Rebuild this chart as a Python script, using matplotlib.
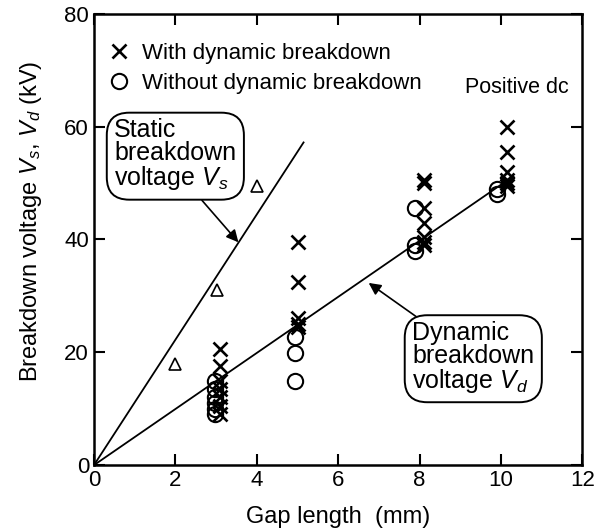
import numpy as np
import matplotlib
matplotlib.use("Agg")
import matplotlib.pyplot as plt

plt.rcParams['font.family'] = ['Liberation Sans', 'DejaVu Sans']
plt.rcParams['mathtext.fontset'] = 'custom'
plt.rcParams['mathtext.it'] = 'Liberation Sans:italic'
plt.rcParams['mathtext.rm'] = 'Liberation Sans'

#-----------------------------------
# data
#-----------------------------------
# with dynamic breakdown (crosses)
withX = [3.1]*7 + [5.02]*5 + [8.1]*7 + [10.15]*6
withY = [20.5, 17.5, 15, 13.5, 12, 10.5, 9,
         39.5, 32.5, 26, 25, 24.5,
         50.5, 50, 45.5, 43, 40.5, 39.5, 39,
         60, 55.5, 52, 50.5, 50, 49.5]

# without dynamic breakdown (circles)
withoutX = [2.97]*6 + [4.95]*3 + [7.9]*3 + [9.9]*2
withoutY = [15, 13.5, 12, 11, 10, 9,
            22.7, 19.8, 15,
            45.5, 39, 38,
            49, 48]

# static breakdown (triangles)
staticX = [2.0, 3.02, 4.0]
staticY = [18, 31, 49.5]

# fitted lines
staticLineX  = [0, 5.15]
staticLineY  = [0, 57.2]
dynLineX     = [0, 10.3]
dynLineY     = [0, 51.2]

#-----------------------------------
# drawing
#-----------------------------------
fig = plt.figure(figsize=(6.06, 5.31), dpi=100)
ax = fig.add_axes([0.155, 0.124, 0.806, 0.85])

ax.plot(staticLineX, staticLineY, '-', color='black', lw=1.3)
ax.plot(dynLineX, dynLineY, '-', color='black', lw=1.3)

ax.plot(withX, withY, 'x', color='black', ms=10, mew=1.9, label='With dynamic breakdown')
ax.plot(withoutX, withoutY, 'o', color='black', mfc='none', ms=11, mew=1.5,
        label='Without dynamic breakdown')
ax.plot(staticX, staticY, '^', color='black', mfc='none', ms=9, mew=1.2)

ax.set_xlim(0, 12)
ax.set_ylim(0, 80)
ax.set_xticks(range(0, 13, 2))
ax.set_yticks(range(0, 81, 20))
ax.tick_params(direction='in', length=8, width=1.5, labelsize=16,
               top=True, right=True)
for s in ax.spines.values():
    s.set_linewidth(1.8)

ax.set_xlabel('Gap length  (mm)', fontsize=17, labelpad=11)
ax.set_ylabel('Breakdown voltage $V_s$, $V_d$ (kV)', fontsize=17)
ax.yaxis.set_label_coords(-0.103, 0.54)

ax.legend(loc='upper left', frameon=False, fontsize=16, handlelength=0.9,
          handletextpad=0.55, borderaxespad=0.3, labelspacing=0.4,
          bbox_to_anchor=(0.0, 0.97))

ax.text(10.4, 66.9, 'Positive dc', fontsize=15.5, ha='center', va='center')

box = dict(boxstyle='round,pad=0.3,rounding_size=0.9', fc='white', ec='black', lw=1.4)
ax.annotate('Static\nbreakdown\nvoltage $V_s$', xy=(3.55, 39.5), xytext=(0.5, 61.5),
            fontsize=18, ha='left', va='top', linespacing=0.95, bbox=box,
            arrowprops=dict(arrowstyle='-|>', color='black', lw=1.2,
                            mutation_scale=18, shrinkA=0, shrinkB=0,
                            relpos=(0.66, 0.0)))
ax.annotate('Dynamic\nbreakdown\nvoltage $V_d$', xy=(6.75, 32.3), xytext=(7.82, 25.6),
            fontsize=18, ha='left', va='top', linespacing=0.95, bbox=box,
            arrowprops=dict(arrowstyle='-|>', color='black', lw=1.2,
                            mutation_scale=18, shrinkA=0, shrinkB=0,
                            relpos=(0.08, 1.0)))

plt.savefig('out.png', dpi=100)
